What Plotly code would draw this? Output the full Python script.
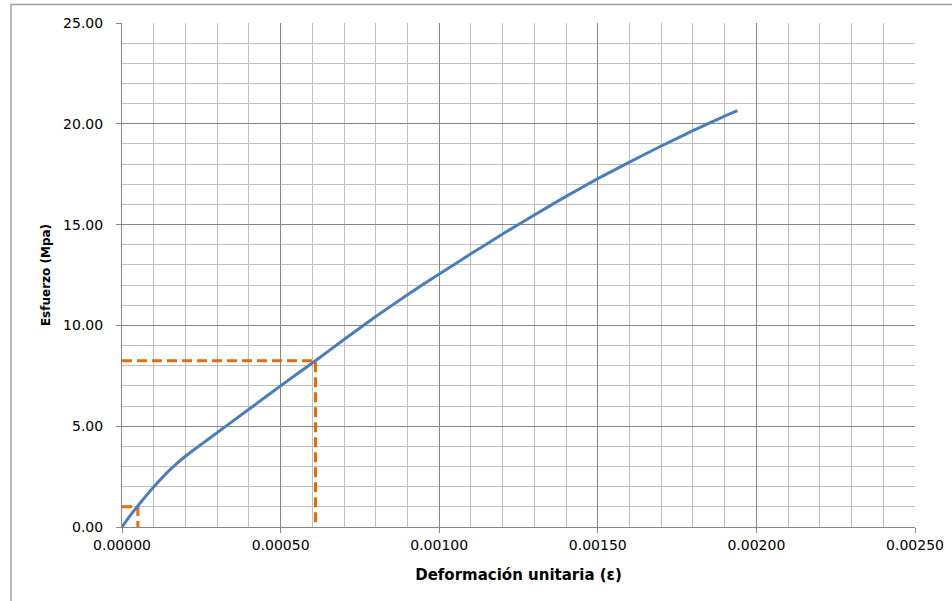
import plotly.graph_objects as go

# Curve data (strain, stress MPa)
strain = [0, 0.000025, 0.00005, 0.000075, 0.0001, 0.000125, 0.00015, 0.000175, 0.0002,
          0.00025, 0.0003, 0.0004, 0.0005, 0.00061, 0.0007, 0.0008, 0.0009, 0.001,
          0.0011, 0.0012, 0.0013, 0.0014, 0.0015, 0.0016, 0.0017, 0.0018, 0.0019, 0.00194]
stress = [0, 0.55, 1.05, 1.53, 1.99, 2.42, 2.82, 3.18, 3.51,
          4.1, 4.68, 5.84, 7.0, 8.25, 9.3, 10.44, 11.52, 12.55,
          13.55, 14.53, 15.48, 16.4, 17.28, 18.1, 18.9, 19.66, 20.38, 20.65]

# Reference dashed guide lines
guide1_x = [0, 0.00005, 0.00005]
guide1_y = [1.0, 1.0, 0]
guide2_x = [0, 0.00061, 0.00061]
guide2_y = [8.25, 8.25, 0]

x_ticks = [0, 0.0005, 0.001, 0.0015, 0.002, 0.0025]
y_ticks = [0, 5, 10, 15, 20, 25]

FONT = "DejaVu Sans"
orange = "#E46C0A"
blue = "#4A7EBB"

fig = go.Figure()
for gx, gy in [(guide1_x, guide1_y), (guide2_x, guide2_y)]:
    fig.add_trace(go.Scatter(x=gx, y=gy, mode="lines",
                             line=dict(color=orange, width=3, dash="10px,5px"),
                             showlegend=False, hoverinfo="skip"))
fig.add_trace(go.Scatter(x=strain, y=stress, mode="lines",
                         line=dict(color=blue, width=3, shape="spline", smoothing=0.4),
                         showlegend=False))

L, R, T, B = 122, 37, 23, 74
W, H = 952, 601
pw, ph = W - L - R, H - T - B

fig.update_layout(
    width=W, height=H,
    margin=dict(l=L, r=R, t=T, b=B, autoexpand=False),
    paper_bgcolor="white", plot_bgcolor="white",
    font=dict(family=FONT, color="#000000", size=14),
    xaxis=dict(
        range=[0, 0.0025], tickvals=x_ticks, tickformat=".5f",
        showgrid=True, gridcolor="#868686", gridwidth=1,
        minor=dict(dtick=0.0001, showgrid=True, gridcolor="#C0C0C0", gridwidth=1, ticks=""),
        showline=True, linecolor="#868686", linewidth=1,
        ticks="outside", ticklen=5, tickcolor="#868686",
        tickfont=dict(family=FONT, size=14),
        ticklabelstandoff=0,
        zeroline=False, automargin=False,
        title=dict(text="<b>Deformación unitaria (ε)</b>",
                   font=dict(family=FONT, size=15), standoff=17),
    ),
    yaxis=dict(
        range=[0, 25], tickvals=y_ticks, tickformat=".2f",
        showgrid=True, gridcolor="#868686", gridwidth=1,
        minor=dict(dtick=1, showgrid=True, gridcolor="#C0C0C0", gridwidth=1, ticks=""),
        showline=True, linecolor="#868686", linewidth=1,
        ticks="outside", ticklen=5, tickcolor="#868686",
        tickfont=dict(family=FONT, size=14),
        ticklabelstandoff=10,
        zeroline=False, automargin=False,
        title=dict(text="<b>Esfuerzo (Mpa)</b>",
                   font=dict(family=FONT, size=12), standoff=9),
    ),
    shapes=[dict(type="rect", xref="paper", yref="paper",
                 x0=(11 - L) / pw, x1=(W + 10 - L) / pw,
                 y0=(H - B - (H + 10)) / ph, y1=(H - B - 4.5) / ph,
                 line=dict(color="#A0A0A0", width=1.5), fillcolor="rgba(0,0,0,0)",
                 layer="below")],
)

fig.write_html("out.html", config={"displayModeBar": False},
               post_script="document.body.style.margin='0';document.body.style.overflow='hidden';")
